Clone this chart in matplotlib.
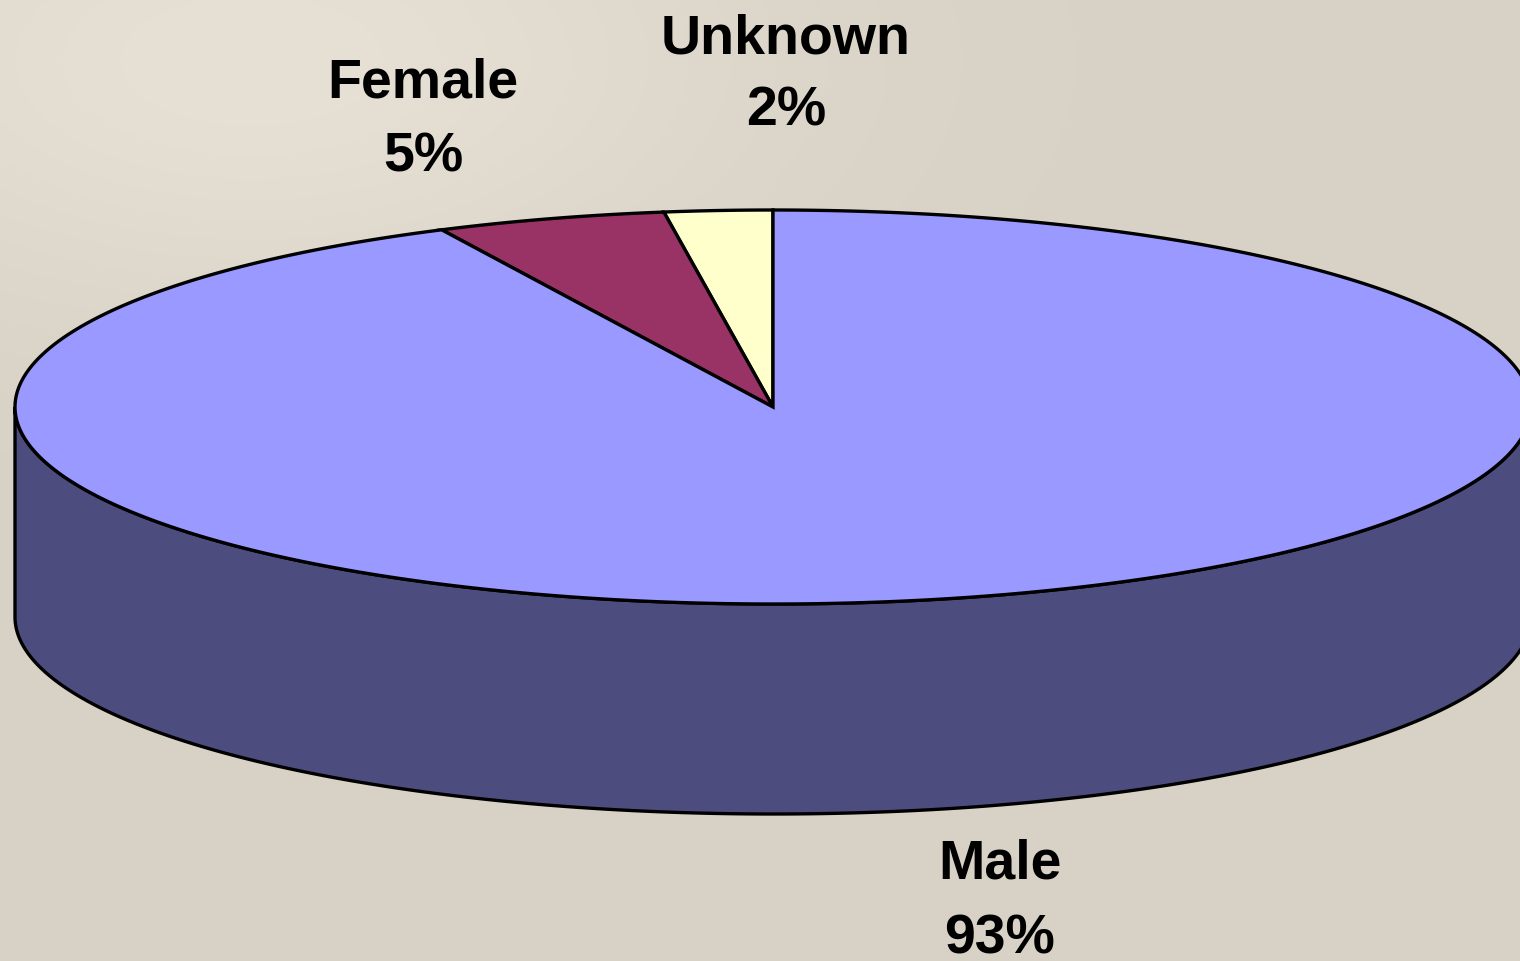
import numpy as np
import matplotlib
matplotlib.use("Agg")
import matplotlib.pyplot as plt
from matplotlib.patches import Polygon

# ---- data ----
categories = ["Unknown", "Female", "Male"]
values = [2.3, 4.9, 92.8]
pct_labels = ["2%", "5%", "93%"]

# ---- style ----
top_colors = ["#FFFFCC", "#993366", "#9999FF"]
side_colors = ["#7F7F66", "#4C1933", "#4C4C7E"]
bg = "#D9D2C7"

W, H = 1520, 962
fig = plt.figure(figsize=(W / 100, H / 100), dpi=100)
fig.patch.set_facecolor(bg)
ax = fig.add_axes([0, 0, 1, 1])
ax.set_xlim(0, W)
ax.set_ylim(H, 0)
ax.axis("off")

# subtle background lightening at top-left
yy, xx = np.mgrid[0:H:4, 0:W:4]
glow = np.exp(-(((xx - 250) / 500.0) ** 2 + ((yy - 60) / 250.0) ** 2))
base = np.array([0xD8, 0xD1, 0xC5]) / 255.0
light = np.array([0xE7, 0xE1, 0xD5]) / 255.0
img = base[None, None, :] * (1 - glow[..., None]) + light[None, None, :] * glow[..., None]
ax.imshow(img, extent=[0, W, H, 0], zorder=0, aspect="auto", interpolation="bilinear")

cx, cy, a, b, depth = 773, 408, 758, 197, 210
lw = 2.4

def pt(theta_deg, dy=0):
    t = np.deg2rad(theta_deg)
    return cx + a * np.cos(t), cy - b * np.sin(t) + dy

# slice angles (counterclockwise from 12 o'clock)
total = sum(values)
bounds = [90.0]
for v in values:
    bounds.append(bounds[-1] + 360.0 * v / total)

# side walls (front half: 180..360)
for i in range(len(values)):
    s, e = bounds[i], bounds[i + 1]
    # normalize into front range
    lo = max(s, 180.0)
    hi = min(e, 360.0)
    segs = []
    if hi > lo:
        segs.append((lo, hi))
    lo2, hi2 = max(s, 540.0), min(e, 720.0)
    if hi2 > lo2:
        segs.append((lo2, hi2))
    for lo_, hi_ in segs:
        th = np.linspace(lo_, hi_, 400)
        topx, topy = pt(th)
        botx, boty = pt(th, depth)
        poly = np.column_stack([np.concatenate([topx, botx[::-1]]),
                                np.concatenate([topy, boty[::-1]])])
        ax.add_patch(Polygon(poly, closed=True, facecolor=side_colors[i],
                             edgecolor="black", linewidth=lw, zorder=2,
                             joinstyle="miter"))

# top wedges
for i in range(len(values)):
    th = np.linspace(bounds[i], bounds[i + 1], 600)
    x, y = pt(th)
    poly = np.column_stack([np.concatenate([[cx], x]), np.concatenate([[cy], y])])
    ax.add_patch(Polygon(poly, closed=True, facecolor=top_colors[i],
                         edgecolor="black", linewidth=lw, zorder=3,
                         joinstyle="miter"))

# labels
label_pos = [(786, 40, 112), (423, 83, 158), (1000, 865, 940)]
font = dict(family=["Liberation Sans", "DejaVu Sans"], fontweight="bold",
            fontsize=40, color="black", ha="center", va="center", zorder=5)
for name, pl, (lx, ly1, ly2) in zip(categories, pct_labels, label_pos):
    ax.text(lx, ly1, name, **font)
    ax.text(lx, ly2, pl, **font)

fig.savefig("out.png", dpi=100, facecolor=bg)
